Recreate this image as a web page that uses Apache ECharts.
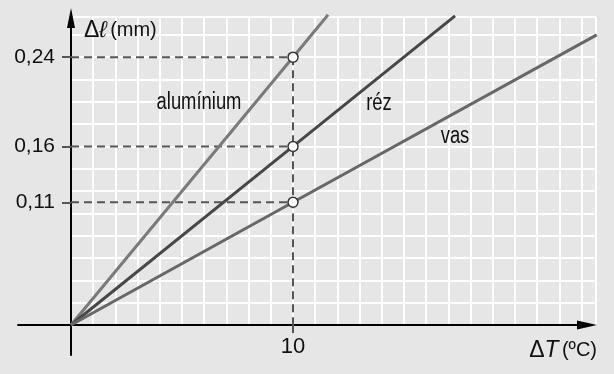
<!DOCTYPE html>
<html><head><meta charset="utf-8">
<script src="https://cdn.jsdelivr.net/npm/echarts@6/dist/echarts.min.js"></script>
<style>html,body{margin:0;padding:0;background:#e6e6e6}#c{width:614px;height:374px}</style>
</head><body><div id="c"></div>
<script>
// ---- data ----
const materials = ['alumínium', 'réz', 'vas'];
const aluminium = [[0, 0], [10, 0.24], [11.58, 0.278]];
const rez = [[0, 0], [10, 0.16], [17.3, 0.277]];
const vas = [[0, 0], [10, 0.11], [23.68, 0.26]];
const markX = 10;
const markY = [0.24, 0.16, 0.11];
const yTickValues = [0.11, 0.16, 0.24];
const yTickLabels = ['0,11', '0,16', '0,24'];
const xTickValues = [10];
const xTickLabels = ['10'];

const FONT = '"Liberation Sans", Arial, sans-serif';
const chart = echarts.init(document.getElementById('c'), null, {renderer: 'canvas'});

function mk(data) {
  return data.map(p => p[0] === markX ? {value: p, symbol: 'circle'} : {value: p, symbol: 'none'});
}
const colors = ['#7a7a7a', '#474747', '#676767'];
const lines = [aluminium, rez, vas].map((d, i) => ({
  type: 'line', name: materials[i], xAxisIndex: 0, yAxisIndex: 0,
  data: mk(d), clip: false, z: 5,
  showSymbol: true, symbolSize: 10,
  itemStyle: {color: '#fff', borderColor: '#333', borderWidth: 1.5},
  lineStyle: {color: colors[i], width: 3},
  emphasis: {disabled: true}, animation: false
}));
const dash = {color: '#555', width: 2, type: [8, 5]};
const guides = markY.map(v => ({
  type: 'line', xAxisIndex: 0, yAxisIndex: 0, data: [[0, v], [markX, v]],
  symbol: 'none', lineStyle: dash, z: 3, animation: false, clip: false
}));
guides.push({
  type: 'line', xAxisIndex: 0, yAxisIndex: 0, data: [[markX, Math.max(...markY)], [markX, 0]],
  symbol: 'none', lineStyle: dash, z: 3, animation: false, clip: false
});

const xs = 22.2, ys = 1115.9; // px per unit
const txt = {fontFamily: FONT, fill: '#111'};
function lbl(text, x, y) {
  return {type: 'text', x: x, y: y, scaleX: 0.8, z: 10,
    style: Object.assign({text: text, align: 'center', verticalAlign: 'middle', fontSize: 23}, txt)};
}
chart.setOption({
  backgroundColor: '#e6e6e6',
  animation: false,
  grid: [
    {left: 71, right: 18, top: 17, bottom: 49, containLabel: false, outerBoundsMode: 'none'},
    {left: 18, right: 27, top: 18, bottom: 19, containLabel: false, outerBoundsMode: 'none'}
  ],
  xAxis: [
    {type: 'value', gridIndex: 0, min: 0, max: 525 / xs, interval: 1,
     axisLine: {show: false}, axisTick: {show: false}, axisLabel: {show: false},
     splitLine: {show: true, lineStyle: {color: '#ffffff', width: 2}}},
    {type: 'value', gridIndex: 1, min: -53 / xs, max: 516 / xs,
     axisLine: {show: true, onZero: true, symbol: ['none', 'triangle'], symbolSize: [9, 20],
       lineStyle: {color: '#000', width: 2}},
     axisTick: {show: true, customValues: xTickValues, length: 8, lineStyle: {color: '#555', width: 2}},
     axisLabel: {show: true, customValues: xTickValues, margin: -19,
       formatter: v => xTickLabels[xTickValues.indexOf(v)],
       fontFamily: FONT, fontSize: 22, color: '#111'},
     splitLine: {show: false}}
  ],
  yAxis: [
    {type: 'value', gridIndex: 0, min: 0, max: 308 / ys, interval: 0.02,
     axisLine: {show: false}, axisTick: {show: false}, axisLabel: {show: false},
     splitLine: {show: true, lineStyle: {color: '#ffffff', width: 2}}},
    {type: 'value', gridIndex: 1, min: -30 / ys, max: 307 / ys,
     axisLine: {show: true, onZero: true, symbol: ['none', 'triangle'], symbolSize: [8, 20],
       lineStyle: {color: '#000', width: 2}},
     axisTick: {show: true, customValues: yTickValues, length: 9, lineStyle: {color: '#555', width: 2}},
     axisLabel: {show: true, customValues: yTickValues, margin: -37,
       formatter: v => yTickLabels[yTickValues.indexOf(v)],
       fontFamily: FONT, fontSize: 21, color: '#111'},
     splitLine: {show: false}}
  ],
  series: guides.concat(lines),
  graphic: [
    {type: 'text', x: 84, y: 30.5, z: 10, style: {
      text: '{a|Δ}{l|ℓ} {b|(mm)}', verticalAlign: 'middle',
      rich: {a: Object.assign({fontSize: 23}, txt),
             l: Object.assign({fontSize: 23, fontStyle: 'italic'}, txt),
             b: Object.assign({fontSize: 20}, txt)}}},
    {type: 'text', x: 597, y: 350.5, z: 10, style: {
      text: '{a|Δ}{t|T} {b|(ºC)}', align: 'right', verticalAlign: 'middle',
      rich: {a: Object.assign({fontSize: 23}, txt),
             t: Object.assign({fontSize: 23, fontStyle: 'italic'}, txt),
             b: Object.assign({fontSize: 20}, txt)}}},
    lbl(materials[0], 199, 103),
    lbl(materials[1], 379, 104),
    lbl(materials[2], 455, 137)
  ]
});
</script></body></html>
